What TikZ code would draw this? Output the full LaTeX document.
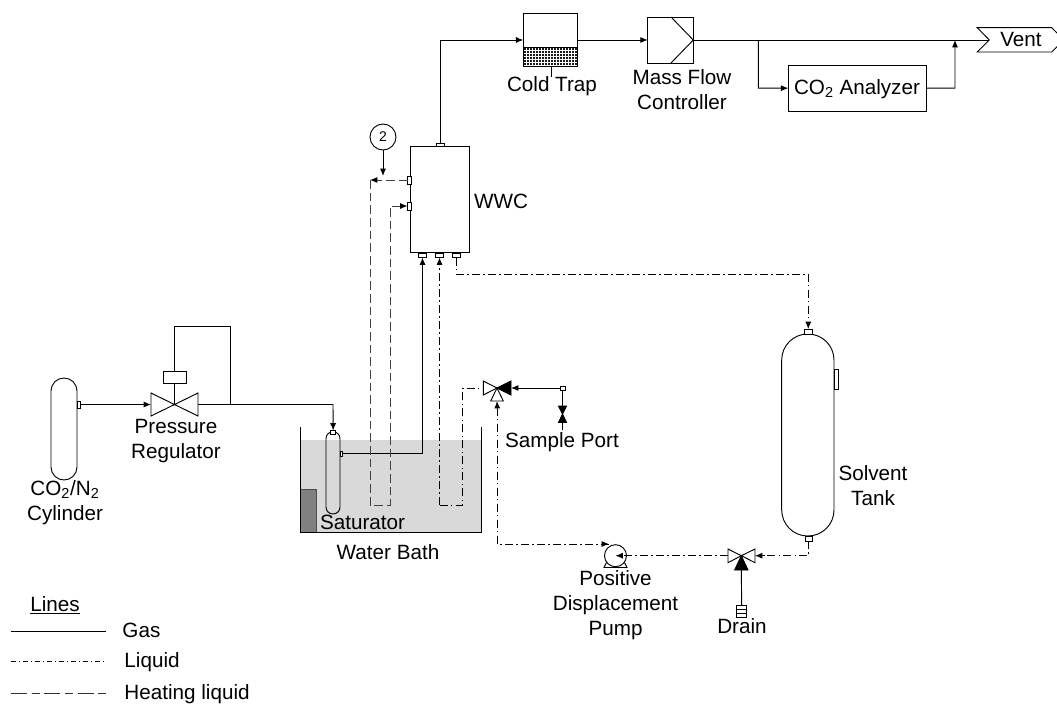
\documentclass[tikz,border=0pt]{standalone}
\usepackage{fontspec}
\setmainfont{Liberation Sans}
\usetikzlibrary{arrows.meta}
\newcommand{\eqbox}[6][]{%
  \pgfmathsetmacro\eqw{(#5-#3)*0.75}%
  \pgfmathsetmacro\eqh{(#6-#4)*0.75}%
  \node[eqnode,minimum width=\eqw pt,minimum height=\eqh pt,#1] (#2) at ({(#3+#5)/2},{(#4+#6)/2}) {};%
}
\tikzset{
  x=0.75pt,y=-0.75pt,
  eqnode/.style={draw,fill=white,inner sep=0pt,outer sep=0pt},
  lbl/.style={font=\fontsize{15.5}{18.75}\selectfont,align=center,inner sep=0pt,text=black},
  gas/.style={draw=black},
  liquid/.style={draw=black,dash pattern=on 6pt off 2.5pt on 1pt off 2.5pt},
  heating/.style={draw=black!75,line width=0.6pt,dash pattern=on 6.5pt off 3pt},
  heatleg/.style={draw=black!80,dash pattern=on 12pt off 3.5pt on 6pt off 3.5pt},
  tip/.style={-{Latex[length=5.5pt,width=4.5pt]}},
}
\begin{document}
\begin{tikzpicture}[line width=0.7pt]
\useasboundingbox (0,0) rectangle (1057,704);
\clip (0,0) rectangle (1057,704);
% water bath
\fill[black!15] (300,440) rectangle (481.5,532);
\fill[black!50] (300,489.5) rectangle (316.5,532);
\draw[black!70] (300,489.5) -- (316.5,489.5) -- (316.5,532);
\draw (300,427) -- (300,532.3) -- (481.5,532.3) -- (481.5,427);

% named points of the valves
\coordinate (rvC) at (174.5,404.5);
\coordinate (rvL) at (151,404.5);
\coordinate (rvR) at (198,404.5);
\coordinate (tvC) at (497,388);
\coordinate (tvL) at (483.3,388);
\coordinate (tvR) at (511,388);
\coordinate (tvB) at (497,401);
\coordinate (dvC) at (741.3,555.7);
\coordinate (dvL) at (728,555.7);
\coordinate (dvR) at (755,555.7);
\coordinate (dvB) at (741.3,570);
\coordinate (spC) at (562.5,414);
\coordinate (spEnd) at (562.5,430);
\coordinate (mfcTip) at (693.3,40);
\coordinate (ventIn) at (989.3,40);
\coordinate (sj) at (230,404.5);
\coordinate (mainJ1) at (758.3,40);
\coordinate (mainJ2) at (955,40);
\coordinate (heatJ) at (370,180);
\coordinate (heatA) at (370,505);
\coordinate (heatB) at (390,505);
\coordinate (heatC) at (390,206);
\coordinate (liqA) at (439.5,505);
\coordinate (liqB) at (462.7,505);
\coordinate (liqC) at (462.7,388);
\coordinate (pumpC) at (615.5,555.7);
\coordinate (pumpTop) at (609,544);
\coordinate (pumpTurn) at (497.3,544);
\coordinate (ctStem) at (551,77);

% equipment
\eqbox[rounded corners=9.75pt]{cyl}{51}{378}{77}{480}
\eqbox{cylport}{77}{401}{80.5}{408}
\eqbox{rvact}{163}{371}{186}{383}
\eqbox[rounded corners=5.2pt,fill=none]{sat}{326}{431.7}{340}{514}
\eqbox{satport}{340}{451}{342.8}{456}
\eqbox{sattop}{330.7}{430.5}{335.6}{434}
\eqbox{wwc}{410.7}{146}{469.7}{252.7}
\eqbox{wwctop}{436}{143}{444}{146}
\eqbox{wwcl1}{407.5}{176}{411}{184}
\eqbox{wwcl2}{407.5}{202}{411}{210}
\eqbox{wwcb1}{418.5}{253}{426.5}{257.5}
\eqbox{wwcb2}{435.5}{253}{443.5}{257.5}
\eqbox{wwcb3}{452.5}{253}{460.5}{257.5}
\eqbox{ct}{523.3}{13}{577.7}{66.7}
\eqbox{mfc}{647.7}{17}{693.3}{63}
\eqbox{ana}{788.3}{65.3}{926}{111}
\eqbox[rounded corners=19.5pt]{tank}{781.7}{334}{834}{536}
\eqbox{tanktop}{804}{329}{812.5}{334}
\eqbox{tankbot}{805}{536}{812}{541}
\eqbox{tankside}{834}{369}{838}{389}
\eqbox{spport}{560}{386}{565}{390}
\eqbox{drain}{736.7}{605.7}{746.7}{617.7}
\node[eqnode,circle,minimum size=19.5pt,font=\fontsize{10.5}{12}\selectfont] (tp) at (383,137) {2};

% cold trap hatching
\fill[black!90] (523.3,47.5) rectangle (577.7,66.7);
\foreach \hx in {526,529,...,576}{\draw[white,line width=0.3pt] (\hx,47.5) -- (\hx,66.7);}
\foreach \hy in {50,53,...,65}{\draw[white,line width=0.3pt] (523.3,\hy) -- (577.7,\hy);}
\draw (ct.north west) rectangle (ct.south east);
\draw (523.3,47.5) -- (577.7,47.5);
\draw (ct.south -| ctStem) -- (ctStem);

% mass flow chevron
\draw (671,17) -- (mfcTip) -- (671,63);

% drain cells
\draw (736.7,609.7) -- (746.7,609.7) (736.7,613.7) -- (746.7,613.7);

% gas lines
\draw[gas,tip] (cylport.east) -- (rvL);
\draw[gas] (rvC) -- (rvact.south);
\draw[gas] (rvact.north) -- (174.5,326.5) -- (230,326.5) -- (sj);
\draw[gas,tip] (rvR) -- (333,404.5) -- (sattop.north);
\draw[gas,tip] (satport.east) -- (422.5,453.5) -- (wwcb1.south);
\draw[gas,tip] (wwctop.north) -- (440,40) -- (523.3,40);
\draw[gas,tip] (577.7,40) -- (647.7,40);
\draw[gas] (mfcTip) -- (ventIn);
\draw[gas,tip] (mainJ1) -- (758.3,88.2) -- (ana.west);
\draw[gas,tip] (ana.east) -- (955,88.2) -- (mainJ2);
\draw[gas,tip] (spport.west) -- (tvR);
\draw[gas] (spport.south) -- (spEnd);
\draw[gas] (drain.north) -- (dvB);
\draw[gas,tip] (tp.south) -- (383,176);

% heating lines
\draw[heating] (wwcl1.west) -- (376,180);
\draw[gas,tip] (376,180) -- (heatJ);
\draw[heating] (heatJ) -- (heatA) -- (heatB) -- (heatC) -- (402,206);
\draw[gas,tip] (402,206) -- (wwcl2.west);

% liquid lines
\draw[liquid] (wwcb3.south) -- (456.5,274) -- (808.3,274) -- (808.3,322);
\draw[gas,tip] (808.3,322) -- (tanktop.north);
\draw[liquid] (liqA) -- (439.5,265);
\draw[gas,tip] (439.5,265) -- (wwcb2.south);
\draw[liquid] (liqA) -- (liqB) -- (liqC) -- (tvL);
\draw[liquid] (tankbot.south) -- (808.5,555.7) -- (765,555.7);
\draw[gas,tip] (765,555.7) -- (dvR);
\draw[liquid] (dvL) -- (622,555.7);
\draw[liquid] (pumpTop) -- (pumpTurn) -- (497.3,410);
\draw[gas,tip] (497.3,410) -- (tvB);
\draw[gas,tip] (601,544) -- (pumpTop);

% pressure regulator
\draw[fill=white] (rvC) -- (151,393) -- (151,416) -- cycle;
\draw[fill=white] (rvC) -- (198,393) -- (198,416) -- cycle;

% three-way valve
\draw[fill=white] (tvC) -- (483.3,381) -- (483.3,395) -- cycle;
\draw[fill=black] (tvC) -- (511,381) -- (511,395) -- cycle;
\draw[fill=white] (tvC) -- (490.7,401) -- (503.3,401) -- cycle;

% sample valve
\draw[fill=black] (spC) -- (558.5,406) -- (566.5,406) -- cycle;
\draw[fill=black] (spC) -- (558.5,422.5) -- (566.5,422.5) -- cycle;

% drain valve
\draw[fill=white] (dvC) -- (728,549) -- (728,562.7) -- cycle;
\draw[fill=white] (dvC) -- (755,549) -- (755,562.7) -- cycle;
\draw[fill=black] (dvC) -- (734.6,570) -- (748,570) -- cycle;

% pump
\draw (606.5,562.5) -- (604,567.5) -- (627,567.5) -- (624.5,562.5);
\draw (pumpC) circle[radius=11];
\draw[gas,tip] (622,555.7) -- (pumpC);

% labels
\node[lbl] (lcyl) at (65,502.5) {CO\textsubscript{2}/N\textsubscript{2}\\Cylinder};
\node[lbl] (lrv) at (176,441.5) {Pressure\\Regulator};
\node[lbl] (lsat) at (362.5,522) {Saturator};
\node[lbl] (lbath) at (388,552) {Water Bath};
\node[lbl] (lwwc) at (501,201) {WWC};
\node[lbl] (lct) at (552,86) {Cold Trap};
\node[lbl] (lmfc) at (682,89.5) {Mass Flow\\Controller};
\node[lbl] (lana) at (857,89) {CO\textsubscript{2} Analyzer};
\node[lbl] (lvent) at (1021,39) {Vent};
\node[lbl] (lsp) at (562,442.5) {Sample Port};
\node[lbl] (ltank) at (873,485.5) {Solvent\\Tank};
\node[lbl] (lpump) at (615.5,605) {Positive\\Displacement\\Pump};
\node[lbl] (ldrain) at (742,626) {Drain};

% vent
\draw (977.3,27.7) -- (1051.7,27.7) -- (1064,40) -- (1051.7,52) -- (977.3,52) -- (ventIn) -- cycle;

% legend
\node[lbl] (llines) at (55,605) {\underline{Lines}};
\node[lbl,anchor=west] (lgas) at (122,630.5) {Gas};
\node[lbl,anchor=west] (lliq) at (124,662) {Liquid};
\node[lbl,anchor=west] (lheat) at (124,694) {Heating liquid};
\coordinate (g1) at (11,631); \coordinate (g2) at (106,631);
\coordinate (q1) at (11,661); \coordinate (q2) at (106,661);
\coordinate (h1) at (11,693); \coordinate (h2) at (106,693);
\draw[gas,line width=0.6pt] (g1) -- (g2);
\draw[liquid,line width=0.5pt,dash pattern=on 4pt off 2pt on 1pt off 2pt] (q1) -- (q2);
\draw[heatleg,line width=0.6pt] (h1) -- (h2);
\end{tikzpicture}
\end{document}
